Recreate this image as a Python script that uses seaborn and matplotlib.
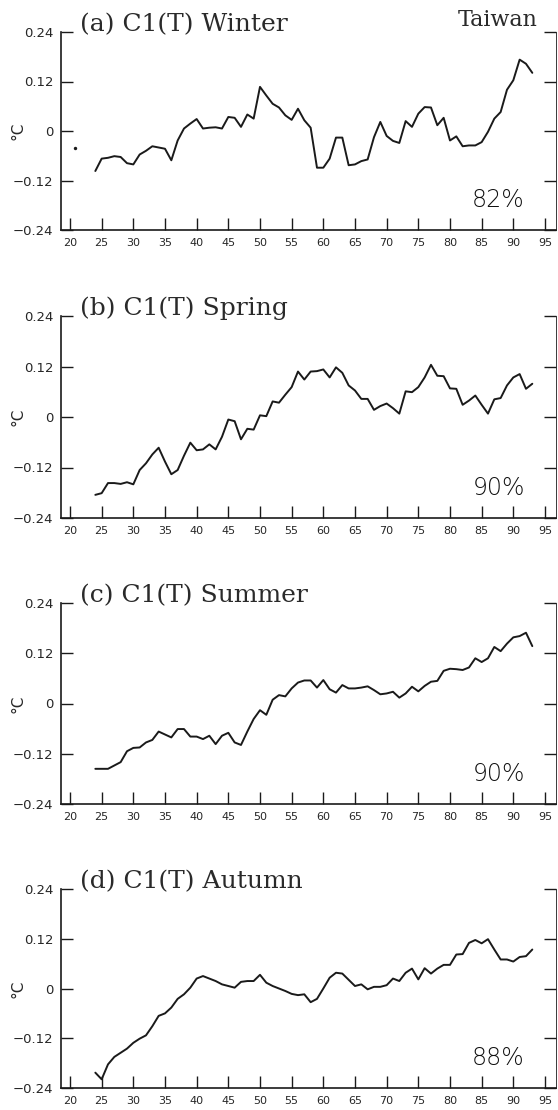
import pandas as pd
import seaborn as sns
import matplotlib.pyplot as plt

# C1(T) time coefficients, Taiwan, 1924-1993 (x axis shows two-digit years)
years = list(range(24, 94))

winter = [-0.097, -0.067, -0.065, -0.061, -0.063, -0.078, -0.081, -0.057, -0.048, -0.037,
          -0.040, -0.043, -0.071, -0.023, 0.006, 0.018, 0.029, 0.006, 0.008, 0.009,
          0.006, 0.034, 0.032, 0.010, 0.040, 0.030, 0.107, 0.086, 0.066, 0.057,
          0.038, 0.027, 0.054, 0.026, 0.008, -0.089, -0.089, -0.067, -0.016, -0.016,
          -0.083, -0.081, -0.073, -0.069, -0.015, 0.022, -0.012, -0.024, -0.029, 0.024,
          0.010, 0.042, 0.058, 0.057, 0.014, 0.032, -0.023, -0.013, -0.037, -0.035,
          -0.035, -0.027, -0.002, 0.030, 0.046, 0.100, 0.123, 0.173, 0.163, 0.141]

spring = [-0.185, -0.181, -0.157, -0.157, -0.159, -0.155, -0.160, -0.126, -0.110, -0.089,
          -0.073, -0.106, -0.136, -0.126, -0.092, -0.061, -0.079, -0.077, -0.065, -0.077,
          -0.047, -0.006, -0.010, -0.053, -0.028, -0.030, 0.004, 0.002, 0.037, 0.034,
          0.053, 0.071, 0.108, 0.089, 0.108, 0.109, 0.113, 0.094, 0.118, 0.105,
          0.075, 0.063, 0.043, 0.043, 0.017, 0.026, 0.032, 0.021, 0.008, 0.061,
          0.059, 0.071, 0.094, 0.124, 0.098, 0.097, 0.068, 0.067, 0.029, 0.039,
          0.051, 0.029, 0.008, 0.042, 0.045, 0.075, 0.094, 0.102, 0.067, 0.079]

summer = [-0.156, -0.156, -0.156, -0.148, -0.140, -0.114, -0.106, -0.105, -0.093, -0.087,
          -0.067, -0.074, -0.081, -0.061, -0.061, -0.079, -0.079, -0.085, -0.077, -0.097,
          -0.077, -0.070, -0.093, -0.099, -0.067, -0.037, -0.016, -0.027, 0.009, 0.020,
          0.017, 0.036, 0.050, 0.055, 0.055, 0.038, 0.056, 0.034, 0.026, 0.044,
          0.036, 0.036, 0.038, 0.041, 0.032, 0.022, 0.024, 0.028, 0.014, 0.024,
          0.040, 0.029, 0.042, 0.052, 0.054, 0.078, 0.083, 0.082, 0.080, 0.086,
          0.108, 0.099, 0.108, 0.135, 0.125, 0.143, 0.158, 0.161, 0.169, 0.137]

autumn = [-0.203, -0.219, -0.183, -0.165, -0.155, -0.145, -0.131, -0.121, -0.113, -0.091,
          -0.066, -0.060, -0.046, -0.025, -0.014, 0.002, 0.024, 0.030, 0.024, 0.018,
          0.010, 0.006, 0.002, 0.016, 0.018, 0.018, 0.033, 0.014, 0.006, 0.000,
          -0.006, -0.013, -0.016, -0.014, -0.033, -0.025, 0.000, 0.026, 0.038, 0.036,
          0.021, 0.006, 0.010, -0.002, 0.004, 0.004, 0.008, 0.024, 0.018, 0.038,
          0.048, 0.022, 0.049, 0.036, 0.048, 0.057, 0.057, 0.082, 0.083, 0.110,
          0.117, 0.109, 0.119, 0.094, 0.070, 0.070, 0.065, 0.076, 0.078, 0.094]

# stray dot near the start of panel (a)
dot_year = [20.8]
dot_value = [-0.040]

series = [winter, spring, summer, autumn]
titles = ['(a) C1(T) Winter', '(b) C1(T) Spring', '(c) C1(T) Summer', '(d) C1(T) Autumn']
percents = ['82%', '90%', '90%', '88%']
region = 'Taiwan'

yticks = [-0.24, -0.12, 0, 0.12, 0.24]
ytick_labels = ['\u22120.24', '\u22120.12', '0', '0.12', '0.24']
xticks = list(range(20, 100, 5))

sns.set_theme(style='ticks')
plt.rcParams['font.family'] = ['DejaVu Sans']

W, H = 558, 1110
fig = plt.figure(figsize=(W / 100, H / 100), dpi=100)

# panel top / bottom in pixels
panel_px = [(32, 230), (316, 518), (603, 804), (889, 1088)]
left_px, right_px = 61, 556

for k, (vals, (top, bot)) in enumerate(zip(series, panel_px)):
    ax = fig.add_axes([left_px / W, 1 - bot / H, (right_px - left_px) / W, (bot - top) / H])
    df = pd.DataFrame({'year': years, 'value': vals})
    sns.lineplot(data=df, x='year', y='value', ax=ax, color='#1a1a1a', lw=1.4)
    if k == 0:
        sns.scatterplot(x=dot_year, y=dot_value, ax=ax, color='#1a1a1a', s=6, linewidth=0)

    ax.set_xlim(18.58, 96.74)
    ax.set_ylim(-0.24, 0.24)
    ax.set_xticks(xticks)
    ax.set_xticklabels([str(x) for x in xticks], fontsize=8)
    ax.set_yticks(yticks)
    ax.set_yticklabels(ytick_labels, fontsize=9.5)
    ax.tick_params(axis='both', direction='in', length=8.5, width=1.0, color='#1a1a1a')
    ax.tick_params(axis='x', pad=5.5)
    ax.tick_params(axis='y', pad=5.5, right=True, labelright=False)

    ax.spines['top'].set_visible(False)
    for side in ['left', 'bottom', 'right']:
        ax.spines[side].set_linewidth(1.2)
        ax.spines[side].set_color('#1a1a1a')
    ax.spines['right'].set_linewidth(0.6)

    ax.set_xlabel('')
    ax.set_ylabel('\u00b0C', fontsize=11)
    ax.yaxis.set_label_coords(-0.072, 0.5)

    ax.text(0.038, 1.005, titles[k], transform=ax.transAxes, ha='left', va='baseline',
            fontsize=18, family='DejaVu Serif', color='#2a2a2a')
    ax.text(0.937, 0.115, percents[k], transform=ax.transAxes, ha='right', va='baseline',
            fontsize=17, fontweight='light', color='#111111')
    if k == 0:
        ax.text(0.962, 1.03, region, transform=ax.transAxes, ha='right', va='baseline',
                fontsize=16, family='DejaVu Serif', color='#2a2a2a')

fig.savefig('out.png', dpi=100, facecolor='white')
